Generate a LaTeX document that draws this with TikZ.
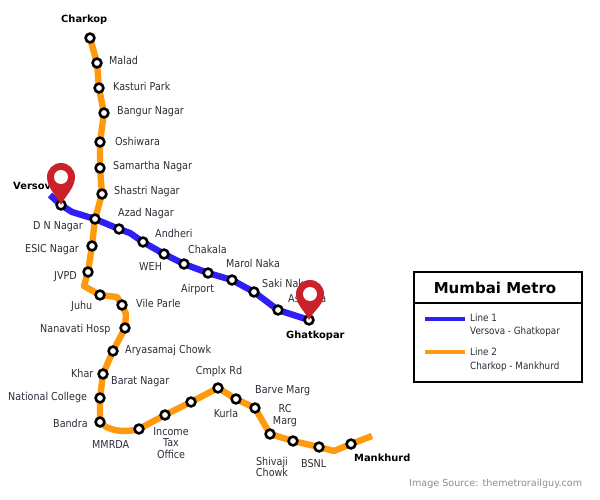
\documentclass[tikz,border=0pt]{standalone}
\usepackage{fontspec}
\setmainfont{DejaVu Sans}
\newfontfamily\narrowfont[FakeStretch=0.88]{DejaVu Sans}
\usetikzlibrary{backgrounds}
\definecolor{lineone}{HTML}{2F1FF5}
\definecolor{linetwo}{HTML}{FF9A0E}
\definecolor{pinred}{HTML}{CB2229}
\definecolor{lab}{HTML}{2C2C38}
\tikzset{
  stn/.style={circle,draw=black,fill=white,line width=2.6pt,minimum size=8.8pt,inner sep=0pt},
  bendpt/.style={inner sep=0pt,minimum size=0pt},
  one/.style={draw=lineone,line width=6.4pt,line join=round},
  two/.style={draw=linetwo,line width=6.4pt,line join=round},
  lbl/.style={font=\narrowfont\fontsize{10.9}{11}\selectfont,text=lab,anchor=west,inner sep=0pt},
  clbl/.style={font=\narrowfont\fontsize{10.9}{11.3}\selectfont,text=lab,align=center,inner sep=0pt},
  term/.style={font=\bfseries\fontsize{9.9}{11}\selectfont,text=black,anchor=west,inner sep=0pt},
  legbox/.style={draw=black,line width=1.4pt,fill=white},
  legtext/.style={font=\narrowfont\fontsize{10}{11}\selectfont,text=lab,anchor=west,inner sep=0pt},
}
\begin{document}
\begin{tikzpicture}[x=1pt,y=-1pt]
\useasboundingbox (0,0) rectangle (600,500);
% stations, line 2
\node[stn] (charkop) at (90,38) {};
\node[stn] (malad) at (97,63) {};
\node[stn] (kasturi) at (99,88) {};
\node[stn] (bangur) at (104,113) {};
\node[stn] (oshiwara) at (100,142) {};
\node[stn] (samartha) at (100,168) {};
\node[stn] (shastri) at (102,194) {};
\node[stn] (dnnagar) at (95,219) {};
\node[stn] (esic) at (92,246) {};
\node[stn] (jvpd) at (88,272) {};
\node[bendpt] (b1) at (84,286) {};
\node[stn] (juhu) at (100,295) {};
\node[bendpt] (b2) at (117,297) {};
\node[stn] (vile) at (122,305) {};
\node[bendpt] (b3) at (126,314) {};
\node[stn] (nanavati) at (125,328) {};
\node[stn] (arya) at (113,351) {};
\node[stn] (khar) at (103,374) {};
\node[stn] (natcol) at (100,398) {};
\node[stn] (bandra) at (100,422) {};
\node[stn] (mmrda) at (139,429) {};
\node[stn] (income) at (165,415) {};
\node[stn] (s191) at (191,402) {};
\node[stn] (cmplx) at (218,388) {};
\node[stn] (kurla) at (236,399) {};
\node[stn] (barve) at (255,408) {};
\node[stn] (rc) at (270,434) {};
\node[stn] (shivaji) at (293,441) {};
\node[stn] (bsnl) at (319,447) {};
\node[bendpt] (b4) at (334,451) {};
\node[stn] (mankhurd) at (351,444) {};
\node[bendpt] (end2) at (372,436) {};
% stations, line 1
\node[bendpt] (start1) at (50,195) {};
\node[stn] (versova) at (61,205) {};
\node[bendpt] (b5) at (72,212) {};
\node[stn] (azad) at (119,229) {};
\node[bendpt] (b6) at (130,233) {};
\node[stn] (andheri) at (143,242) {};
\node[stn] (weh) at (164,254) {};
\node[stn] (chakala) at (184,264) {};
\node[stn] (airport) at (208,273) {};
\node[stn] (marol) at (232,280) {};
\node[stn] (saki) at (254,292) {};
\node[stn] (asalpha) at (278,310) {};
\node[stn] (ghatkopar) at (309,320) {};
% lines
\begin{scope}[on background layer]
\draw[two] (charkop.center)--(malad.center)--(kasturi.center)--(bangur.center)--(oshiwara.center)--(samartha.center)--(shastri.center)--(dnnagar.center)--(esic.center)--(jvpd.center)--(b1.center)--(juhu.center)--(b2.center)--(vile.center)--(b3.center)--(nanavati.center)--(arya.center)--(khar.center)--(natcol.center)--(bandra.center) .. controls (108,431) and (124,433) .. (mmrda.center)--(income.center)--(s191.center)--(cmplx.center)--(kurla.center)--(barve.center)--(rc.center)--(shivaji.center)--(bsnl.center)--(b4.center)--(mankhurd.center)--(end2.center);
\draw[one] (start1.center)--(versova.center)--(b5.center)--(dnnagar.center)--(azad.center)--(b6.center)--(andheri.center)--(weh.center)--(chakala.center)--(airport.center)--(marol.center)--(saki.center)--(asalpha.center)--(ghatkopar.center);
\end{scope}
% labels
\node[term] (tcharkop) at (61,20) {Charkop};
\node[lbl] (tmalad) at (109,60) {Malad};
\node[lbl] (tkasturi) at (113,86) {Kasturi Park};
\node[lbl] (tbangur) at (117,112) {Bangur Nagar};
\node[lbl] (toshiwara) at (115,141) {Oshiwara};
\node[lbl] (tsamartha) at (113,166) {Samartha Nagar};
\node[lbl] (tshastri) at (114,191) {Shastri Nagar};
\node[term] (tversova) at (13,186) {Versova};
\node[lbl] (tazad) at (118,213) {Azad Nagar};
\node[lbl] (tdn) at (33,227) {D N Nagar};
\node[lbl] (tandheri) at (155,233) {Andheri};
\node[lbl] (tchakala) at (188,249) {Chakala};
\node[lbl] (tesic) at (25,250) {ESIC Nagar};
\node[lbl] (tmarol) at (226,263) {Marol Naka};
\node[lbl] (tweh) at (139,267) {WEH};
\node[lbl] (tjvpd) at (54,277) {JVPD};
\node[lbl] (tsaki) at (262,283) {Saki Naka};
\node[lbl] (tairport) at (181,289) {Airport};
\node[lbl] (tasalpha) at (288,299) {Asalpha};
\node[lbl] (tvile) at (136,303) {Vile Parle};
\node[lbl] (tjuhu) at (71,306) {Juhu};
\node[lbl] (tnanavati) at (40,329) {Nanavati Hosp};
\node[term] (tghat) at (286,336) {Ghatkopar};
\node[lbl] (tarya) at (125,350) {Aryasamaj Chowk};
\node[clbl] (tcmplx) at (219,371) {Cmplx Rd};
\node[lbl] (tkhar) at (71,373) {Khar};
\node[lbl] (tbarat) at (111,382) {Barat Nagar};
\node[lbl] (tbarve) at (255,391) {Barve Marg};
\node[lbl] (tnat) at (8,397) {National College};
\node[clbl] (trc) at (285,415.5) {RC\\Marg};
\node[clbl] (tkurla) at (226,413) {Kurla};
\node[lbl] (tbandra) at (53,423) {Bandra};
\node[clbl] (tincome) at (171,443) {Income\\Tax\\Office};
\node[lbl] (tmmrda) at (92,445) {MMRDA};
\node[term] (tmank) at (354,458) {Mankhurd};
\node[clbl] (tshiv) at (272,467) {Shivaji\\Chowk};
\node[lbl] (tbsnl) at (301,464) {BSNL};
% pins
\fill[pinred] (61,205) .. controls (57,196) and (47,188) .. (47,177) arc[start angle=180,end angle=360,radius=14] .. controls (75,188) and (65,196) .. (61,205) -- cycle;
\fill[white] (61,177) circle (7);
\fill[pinred] (309,320) .. controls (305,311) and (296,305) .. (296,294) arc[start angle=180,end angle=360,radius=14] .. controls (324,305) and (313,311) .. (309,320) -- cycle;
\fill[white] (310,294) circle (7);
% legend
\node[legbox,minimum width=168pt,minimum height=110pt,inner sep=0pt] (legend) at (498,327) {};
\node[font=\bfseries\fontsize{15}{17}\selectfont,text=black] (legtitle) at (495,287.5) {Mumbai Metro};
\draw[line width=1.4pt] (legend.west |- 0,303) coordinate (dl) -- (legend.east |- 0,303) coordinate (dr);
\coordinate (k1a) at (425,319); \coordinate (k1b) at (465,319);
\coordinate (k2a) at (425,352); \coordinate (k2b) at (465,352);
\draw[draw=lineone,line width=3.6pt] (k1a)--(k1b);
\draw[draw=linetwo,line width=3.6pt] (k2a)--(k2b);
\node[legtext] (lg1) at (470,318) {Line 1};
\node[legtext] (lg1b) at (470,332) {Versova - Ghatkopar};
\node[legtext] (lg2) at (470,352) {Line 2};
\node[legtext] (lg2b) at (470,367) {Charkop - Mankhurd};
\node[font=\fontsize{9.6}{11}\selectfont,text=black!45,anchor=west,inner sep=0pt] (src) at (409,484) {Image Source: themetrorailguy.com};
\end{tikzpicture}
\end{document}
